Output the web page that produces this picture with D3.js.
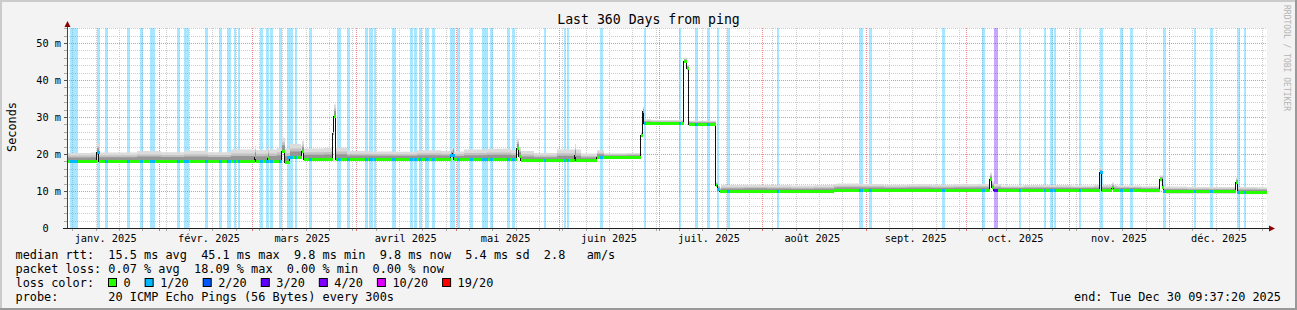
<!DOCTYPE html>
<html>
<head>
<meta charset="utf-8">
<script src="https://cdn.jsdelivr.net/npm/d3@7"></script>
<style>
  body { margin: 0; background: #f3f3f3; }
  svg { display: block; font-family: "DejaVu Sans Mono", monospace; }
</style>
</head>
<body>
<svg id="chart" width="1297" height="310"></svg>
<script>
// time frame of the graph (utc)
const DAY = 864e5;
const jan1 = Date.UTC(2025, 0, 1);
const endTime = new Date(Date.UTC(2025, 11, 30, 9, 37, 20));
const spanDays = 360;

// median rtt as steps: [days since jan 1 2025, ms]
const medianPoints = [
    [3.4, 18.2], [12.4, 20.6], [12.9, 18.2],
    [59.8, 19.2], [60.1, 18.1], [63.7, 18.9], [64.0, 18.2],
    [67.9, 20.9], [68.8, 17.9], [70.3, 19.2],
    [73.9, 20.7], [74.5, 18.6],
    [83.2, 25.8], [83.5, 30.4], [84.1, 18.7],
    [118.6, 19.6], [119.1, 20.3], [119.5, 18.6],
    [138.4, 21.7], [139.0, 19.4], [139.6, 18.3],
    [155.8, 19.8], [156.1, 18.3],
    [162.4, 19.2],
    [175.6, 25.0], [176.1, 31.6], [176.5, 28.3],
    [188.5, 45.1], [189.3, 43.2], [189.9, 28.1],
    [198.1, 11.6], [198.5, 10.6], [199.3, 10.0],
    [233.5, 10.3],
    [280.3, 13.3], [280.9, 11.0], [281.5, 10.3],
    [313.3, 15.0], [313.9, 10.3],
    [316.9, 10.9], [317.3, 10.3],
    [331.3, 13.2], [332.0, 11.1], [332.4, 9.9],
    [354.1, 12.4], [354.7, 9.8]
];

// loss periods: [days since jan 1, length in days, loss level index]
const lossBars = [
    [4.3, 1.5, 1], [5.8, 0.9, 1], [12.4, 0.9, 1], [14.8, 0.9, 1], [21.4, 0.9, 1],
    [25.3, 0.9, 1], [28.3, 1.5, 1], [36.4, 0.9, 1], [38.5, 1.5, 1], [44.8, 0.9, 1],
    [49.0, 0.9, 1], [51.4, 1.2, 1], [53.5, 0.6, 1], [54.7, 0.6, 1], [61.3, 0.9, 1],
    [63.1, 0.9, 1], [64.3, 0.9, 1], [67.0, 0.9, 1], [69.4, 1.8, 1], [71.8, 0.6, 1],
    [76.0, 0.9, 1], [84.4, 1.2, 1], [87.4, 0.9, 1], [92.8, 0.9, 1], [94.0, 1.2, 1],
    [95.5, 0.6, 1], [100.9, 1.2, 1], [106.3, 0.9, 1], [107.5, 0.9, 1], [109.0, 0.9, 1],
    [110.8, 1.2, 1], [112.9, 0.9, 1], [118.3, 1.5, 1], [120.4, 0.9, 1], [124.3, 0.9, 1],
    [127.9, 1.8, 1], [130.3, 0.9, 1], [135.4, 0.9, 1], [136.9, 0.9, 1], [146.5, 0.6, 1],
    [152.5, 0.6, 1], [153.4, 0.6, 1], [163.3, 0.9, 1], [176.5, 0.6, 1], [187.0, 0.6, 1],
    [191.8, 0.9, 1], [195.4, 0.9, 1], [198.4, 0.6, 1], [201.4, 0.9, 1], [216.4, 0.6, 1],
    [241.0, 1.2, 1], [244.0, 0.9, 1], [265.9, 0.9, 1], [277.9, 0.9, 1], [281.5, 1.2, 3],
    [289.0, 0.6, 1], [296.5, 0.6, 1], [298.3, 0.9, 1], [299.5, 0.6, 1], [307.0, 0.6, 1],
    [313.3, 0.9, 1], [319.3, 0.9, 1], [322.3, 0.9, 1], [332.2, 0.9, 1], [341.5, 0.6, 1],
    [346.3, 0.9, 1], [354.4, 0.9, 1], [356.5, 0.6, 1]
];

// smoke spread per week from start (ms above / below the median)
const smokeUp = [
    2.1, 2.2, 2.2, 2.6, 2.3, 2.7, 2.3, 3.0, 3.0, 3.5,
    2.9, 3.0, 2.1, 2.0, 1.9, 2.3, 2.1, 2.6, 2.8, 2.5,
    2.0, 2.9, 1.8, 1.0, 1.1, 0.9, 0.9, 0.9, 1.6, 1.7,
    1.6, 1.5, 1.6, 1.7, 1.6, 1.4, 1.5, 1.4, 1.5, 1.6,
    1.2, 1.3, 1.3, 1.2, 1.4, 1.2, 1.0, 1.3, 1.2, 1.2, 1.3, 1.2
];
const smokeDown = [
    0.4, 0.4, 0.4, 0.4, 0.4, 0.4, 0.4, 0.4, 0.4, 0.5,
    0.5, 0.5, 0.5, 0.5, 0.5, 0.5, 0.5, 0.5, 0.5, 0.5,
    0.5, 0.5, 0.5, 0.5, 0.4, 0.4, 0.4, 0.4, 0.6, 0.6,
    0.6, 0.6, 0.6, 0.6, 0.6, 0.6, 0.6, 0.6, 0.6, 0.6,
    0.6, 0.6, 0.6, 0.6, 0.6, 0.6, 0.7, 0.7, 0.7, 0.7, 0.7, 0.7
];

const yTicks = [0, 10, 20, 30, 40, 50];
const yTickLabels = ["0  ", "10 m", "20 m", "30 m", "40 m", "50 m"];
const monthLabels = ["janv. 2025", "févr. 2025", "mars 2025", "avril 2025", "mai 2025", "juin 2025",
    "juil. 2025", "août 2025", "sept. 2025", "oct. 2025", "nov. 2025", "déc. 2025"];

const lossLabels = ["0", "1/20", "2/20", "3/20", "4/20", "10/20", "19/20"];
const lossColors = ["#26ff00", "#00b8ff", "#0059ff", "#5e00ff", "#7e00ff", "#dd00ff", "#ff0000"];

const statLines = [
    "median rtt:  15.5 ms avg  45.1 ms max  9.8 ms min  9.8 ms now  5.4 ms sd  2.8   am/s",
    "packet loss: 0.07 % avg  18.09 % max  0.00 % min  0.00 % now"
];
const probeLine = "probe:       20 ICMP Echo Pings (56 Bytes) every 300s";
const endLine = "end: Tue Dec 30 09:37:20 2025";
const titleText = "Last 360 Days from ping";


class SmokeGraph {

    constructor(_config) {
        this.config = {
            parentElement: _config.parentElement,
            width: 1297,
            height: 310,
            left: 67,
            right: 1267,
            top: 28,
            bottom: 228
        };
        this.initVis();
    }

    initVis() {
        let vis = this;
        const c = vis.config;

        vis.svg = d3.select(c.parentElement);
        vis.toDate = d => new Date(jan1 + d * DAY);
        vis.startTime = new Date(endTime - spanDays * DAY);

        vis.x = d3.scaleUtc().domain([vis.startTime, endTime]).range([c.left, c.right]);
        // 10 m = 37px, so the top of the canvas sits a bit above 54 m
        vis.y = d3.scaleLinear().domain([0, 54.05]).range([c.bottom, c.top]);

        // median steps
        vis.steps = medianPoints.map((p, i) => ({
            t0: vis.toDate(p[0]),
            t1: i < medianPoints.length - 1 ? vis.toDate(medianPoints[i + 1][0]) : endTime,
            v: p[1]
        }));
        const bis = d3.bisector(d => d.t0).right;
        vis.medianAt = t => vis.steps[Math.max(0, bis(vis.steps, t) - 1)].v;

        vis.drawFrame();
        vis.drawGrid();
        vis.drawData();
        vis.drawAxes();
        vis.drawLegend();
    }

    drawFrame() {
        let vis = this;
        const c = vis.config, W = c.width, H = c.height;
        vis.svg.append('rect').attr('width', W).attr('height', H).attr('fill', '#f3f3f3');
        vis.svg.append('path').attr('d', `M0,0H${W}V2H2V${H}H0Z`).attr('fill', '#cbcbcb');
        vis.svg.append('path').attr('d', `M${W},${H}H0V${H - 2}H${W - 2}V0H${W}Z`).attr('fill', '#999');
        vis.svg.append('rect')
            .attr('x', c.left).attr('y', c.top)
            .attr('width', c.right - c.left).attr('height', c.bottom - c.top)
            .attr('fill', '#fff');
    }

    drawGrid() {
        let vis = this;
        const c = vis.config;
        const g = vis.svg.append('g').attr('class', 'grid');
        const px = v => Math.round(v) + 0.5;

        // horizontal: minor every 2 m, major every 10 m
        const hMinor = d3.range(2, 55, 2).filter(v => v % 10 !== 0);
        g.selectAll('line.hmin').data(hMinor).join('line').attr('class', 'hmin')
            .attr('x1', c.left).attr('x2', c.right)
            .attr('y1', d => px(vis.y(d))).attr('y2', d => px(vis.y(d)))
            .attr('stroke', '#cdcdcd').attr('stroke-dasharray', '1,1');
        g.selectAll('line.hmaj').data(yTicks.filter(v => v > 0)).join('line').attr('class', 'hmaj')
            .attr('x1', c.left).attr('x2', c.right)
            .attr('y1', d => px(vis.y(d))).attr('y2', d => px(vis.y(d)))
            .attr('stroke', '#ea9090').attr('stroke-dasharray', '1,1');

        // vertical: weeks (monday) and months
        vis.weeks = d3.utcMonday.range(vis.startTime, endTime);
        vis.months = d3.utcMonth.range(d3.utcMonth.ceil(vis.startTime), endTime);
        g.selectAll('line.vmin').data(vis.weeks).join('line').attr('class', 'vmin')
            .attr('x1', d => px(vis.x(d))).attr('x2', d => px(vis.x(d)))
            .attr('y1', c.top).attr('y2', c.bottom)
            .attr('stroke', '#cdcdcd').attr('stroke-dasharray', '1,1');
        g.selectAll('line.vmaj').data(vis.months).join('line').attr('class', 'vmaj')
            .attr('x1', d => px(vis.x(d))).attr('x2', d => px(vis.x(d)))
            .attr('y1', c.top).attr('y2', c.bottom)
            .attr('stroke', '#ea9090').attr('stroke-dasharray', '1,1');
    }

    drawData() {
        let vis = this;
        const c = vis.config;

        // loss background bars, full height
        vis.svg.append('g').selectAll('rect').data(lossBars).join('rect')
            .attr('x', d => vis.x(vis.toDate(d[0])))
            .attr('width', d => vis.x(vis.toDate(d[0] + d[1])) - vis.x(vis.toDate(d[0])))
            .attr('y', c.top).attr('height', c.bottom - c.top)
            .attr('fill', d => lossColors[d[2]]).attr('fill-opacity', 0.34);

        // smoke: sample one value per pixel column
        const cols = d3.range(c.left, c.right + 1).map(px => {
            const t = vis.x.invert(px);
            const wk = Math.min(smokeUp.length - 1, Math.floor((t - vis.startTime) / (7 * DAY)));
            return { t: t, med: vis.medianAt(t), up: smokeUp[wk], down: smokeDown[wk] };
        });
        const bands = [
            { f: 1.0, color: '#dcdcdc' },
            { f: 0.65, color: '#c2c2c2' },
            { f: 0.42, color: '#969696' }
        ];
        const smoke = vis.svg.append('g');
        bands.forEach(b => {
            const area = d3.area()
                .curve(d3.curveStepAfter)
                .x(d => vis.x(d.t))
                .y0(d => vis.y(d.med - d.down * b.f))
                .y1(d => vis.y(d.med + d.up * b.f));
            smoke.append('path').datum(cols).attr('d', area).attr('fill', b.color);
        });

        // thin dark median line
        const pts = vis.steps.map(s => ({ t: s.t0, v: s.v }));
        pts.push({ t: endTime, v: vis.steps[vis.steps.length - 1].v });
        const line = d3.line().curve(d3.curveStepAfter)
            .x(d => vis.x(d.t)).y(d => Math.round(vis.y(d.v)) + 0.5);
        vis.svg.append('path').datum(pts).attr('d', line)
            .attr('fill', 'none').attr('stroke', '#111').attr('stroke-width', 1)
            .attr('shape-rendering', 'crispEdges');

        // thick median coloured by loss (0 loss first, lossy periods over it)
        const med = vis.svg.append('g').attr('shape-rendering', 'crispEdges');
        med.selectAll('rect.m0').data(vis.steps).join('rect').attr('class', 'm0')
            .attr('x', d => vis.x(d.t0))
            .attr('width', d => Math.max(1, vis.x(d.t1) - vis.x(d.t0)))
            .attr('y', d => Math.round(vis.y(d.v)) - 1)
            .attr('height', 3)
            .attr('fill', lossColors[0]);
        med.selectAll('rect.ml').data(lossBars).join('rect').attr('class', 'ml')
            .attr('x', d => vis.x(vis.toDate(d[0])))
            .attr('width', d => Math.max(1, vis.x(vis.toDate(d[0] + d[1])) - vis.x(vis.toDate(d[0]))))
            .attr('y', d => Math.round(vis.y(vis.medianAt(vis.toDate(d[0] + d[1] / 2)))) - 1)
            .attr('height', 3)
            .attr('fill', d => lossColors[d[2]]);
    }

    drawAxes() {
        let vis = this;
        const c = vis.config;
        const g = vis.svg.append('g').attr('shape-rendering', 'crispEdges');

        // small ticks
        g.selectAll('line.yt').data(d3.range(0, 55, 2)).join('line').attr('class', 'yt')
            .attr('x1', c.left - 3).attr('x2', c.left)
            .attr('y1', d => Math.round(vis.y(d)) + 0.5).attr('y2', d => Math.round(vis.y(d)) + 0.5)
            .attr('stroke', d => d % 10 === 0 ? '#555' : '#aaa');
        g.selectAll('line.xt').data(vis.weeks).join('line').attr('class', 'xt')
            .attr('x1', d => Math.round(vis.x(d)) + 0.5).attr('x2', d => Math.round(vis.x(d)) + 0.5)
            .attr('y1', c.bottom).attr('y2', c.bottom + 3)
            .attr('stroke', '#aaa');
        g.selectAll('line.xm').data(vis.months).join('line').attr('class', 'xm')
            .attr('x1', d => Math.round(vis.x(d)) + 0.5).attr('x2', d => Math.round(vis.x(d)) + 0.5)
            .attr('y1', c.bottom).attr('y2', c.bottom + 3)
            .attr('stroke', '#e07070');

        // axis lines + arrows
        g.append('line').attr('x1', c.left + 0.5).attr('x2', c.left + 0.5)
            .attr('y1', c.bottom).attr('y2', c.top - 5).attr('stroke', '#444');
        g.append('line').attr('x1', c.left - 4).attr('x2', c.right + 2)
            .attr('y1', c.bottom + 0.5).attr('y2', c.bottom + 0.5).attr('stroke', '#1f1f1f');
        vis.svg.append('path')
            .attr('d', `M${c.left + 0.5},${c.top - 7}L${c.left + 3.5},${c.top - 1}L${c.left - 2.5},${c.top - 1}Z`)
            .attr('fill', '#8b0000');
        vis.svg.append('path')
            .attr('d', `M${c.right + 8},${c.bottom + 0.5}L${c.right + 2},${c.bottom - 2.5}L${c.right + 2},${c.bottom + 3.5}Z`)
            .attr('fill', '#8b0000');

        // y labels
        vis.svg.append('g').selectAll('text').data(yTicks).join('text')
            .attr('x', 61)
            .attr('y', d => vis.y(d) + 3.8)
            .attr('text-anchor', 'end')
            .attr('xml:space', 'preserve')
            .style('white-space', 'pre')
            .attr('font-size', '10.3px')
            .attr('fill', '#000')
            .text((d, i) => yTickLabels[i]);

        // month labels sit on the 16th
        const labelMonths = [d3.utcMonth.floor(vis.startTime)].concat(vis.months);
        vis.svg.append('g').selectAll('text').data(labelMonths).join('text')
            .attr('x', d => vis.x(d3.utcDay.offset(d, 15)))
            .attr('y', 241.5)
            .attr('text-anchor', 'middle')
            .attr('font-size', '10.3px')
            .text((d, i) => monthLabels[i]);

        // axis title, graph title, watermark
        vis.svg.append('text')
            .attr('transform', 'translate(15.5,127) rotate(-90)')
            .attr('text-anchor', 'middle')
            .attr('font-size', '11.86px')
            .text('Seconds');
        vis.svg.append('text')
            .attr('x', c.width / 2).attr('y', 24)
            .attr('text-anchor', 'middle')
            .attr('font-size', '13.2px')
            .text(titleText);
        vis.svg.append('text')
            .attr('transform', 'translate(1284,5) rotate(90)')
            .attr('font-size', '8px')
            .attr('fill', '#b4b4b4')
            .text('RRDTOOL / TOBI OETIKER');
    }

    drawLegend() {
        let vis = this;
        const fs = '11.86px';
        const x0 = 15.5;
        const base = [258.5, 272.5, 286.5, 300.5];

        statLines.forEach((s, i) => {
            vis.svg.append('text')
                .attr('x', x0).attr('y', base[i])
                .attr('xml:space', 'preserve').style('white-space', 'pre')
                .attr('font-size', fs)
                .text(s);
        });

        // loss colour boxes
        vis.svg.append('text')
            .attr('x', x0).attr('y', base[2])
            .attr('font-size', fs)
            .text('loss color:');
        let bx = 108.5;
        lossLabels.forEach((lab, i) => {
            vis.svg.append('rect')
                .attr('x', bx).attr('y', base[2] - 8)
                .attr('width', 8).attr('height', 8)
                .attr('fill', lossColors[i]).attr('stroke', '#000').attr('stroke-width', 1);
            const t = vis.svg.append('text')
                .attr('x', bx + 15).attr('y', base[2])
                .attr('font-size', fs)
                .text(lab);
            bx = bx + 15 + t.node().getComputedTextLength() + 14.5;
        });

        vis.svg.append('text')
            .attr('x', x0).attr('y', base[3])
            .attr('xml:space', 'preserve').style('white-space', 'pre')
            .attr('font-size', fs)
            .text(probeLine);
        vis.svg.append('text')
            .attr('x', 1281).attr('y', base[3])
            .attr('text-anchor', 'end')
            .attr('font-size', fs)
            .text(endLine);
    }
}

new SmokeGraph({ parentElement: '#chart' });
</script>
</body>
</html>
